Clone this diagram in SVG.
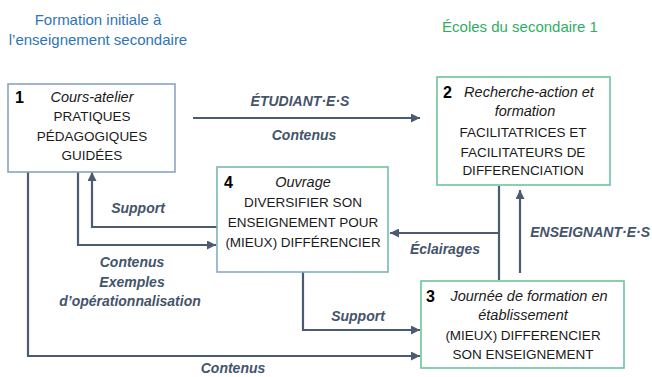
<svg xmlns="http://www.w3.org/2000/svg" width="652" height="377" viewBox="0 0 652 377">
<style>
.hdr{font-family:"Liberation Sans",Arial,sans-serif;font-size:15px}
.box{fill:#fff;stroke-width:1.6}
.t{font-family:"Liberation Sans",Arial,sans-serif;font-size:13.5px;fill:#1a1a1a;text-anchor:middle}
.it{font-style:italic;font-size:14.5px}
.num{font-family:"Liberation Sans",Arial,sans-serif;font-size:16px;font-weight:bold;fill:#000}
.lbl{font-family:"Liberation Sans",Arial,sans-serif;font-size:14px;font-weight:bold;font-style:italic;fill:#44546A;text-anchor:middle}
.c{fill:none;stroke:#4A5B72;stroke-width:2.2}
</style>
<defs>
<marker id="ah" markerUnits="userSpaceOnUse" markerWidth="10" markerHeight="9" refX="9" refY="4.5" orient="auto">
<path d="M0,0 L9,4.5 L0,9 z" fill="#4A5B72"/>
</marker>
<linearGradient id="g4" x1="0" y1="1" x2="1" y2="0">
<stop offset="0" stop-color="#86A9C8"/>
<stop offset="1" stop-color="#6CC59A"/>
</linearGradient>
</defs>

<g id="headers">
<text class="hdr" x="98" y="25" fill="#2E75B6" text-anchor="middle">Formation initiale à</text>
<text class="hdr" x="98" y="45" fill="#2E75B6" text-anchor="middle">l’enseignement secondaire</text>
<text class="hdr" x="520" y="32" fill="#2FAE62" text-anchor="middle" font-size="14.5">Écoles du secondaire 1</text>
</g>

<g id="connectors">
<path class="c" d="M193,118 H420" stroke-width="3" marker-end="url(#ah)"/>
<path class="c" d="M28,172 V356 H420" marker-end="url(#ah)"/>
<path class="c" d="M78,172 V245 H216" marker-end="url(#ah)"/>
<path class="c" d="M217,227 H92 V172" marker-end="url(#ah)"/>
<path class="c" d="M303,272 V330 H420" marker-end="url(#ah)"/>
<path class="c" d="M499,186 V280"/>
<path class="c" d="M499,233 H390" marker-end="url(#ah)"/>
<path class="c" d="M520,273 V190" stroke-width="2.6" marker-end="url(#ah)"/>
<text class="lbl" x="300" y="106">ÉTUDIANT·E·S</text>
<text class="lbl" x="304" y="140">Contenus</text>
<text class="lbl" x="138" y="213">Support</text>
<text class="lbl" x="132" y="267">Contenus</text>
<text class="lbl" x="132" y="287">Exemples</text>
<text class="lbl" x="130" y="306">d’opérationnalisation</text>
<text class="lbl" x="358" y="321">Support</text>
<text class="lbl" x="445" y="254">Éclairages</text>
<text class="lbl" x="650" y="237" style="text-anchor:end">ENSEIGNANT·E·S</text>
<text class="lbl" x="233" y="373">Contenus</text>
</g>

<g id="node1">
<rect class="box" x="8" y="84" width="167" height="88" stroke="#8AA4BF"/>
<text class="num" x="15" y="103">1</text>
<text class="t it" x="92" y="102">Cours-atelier</text>
<text class="t" x="92" y="121">PRATIQUES</text>
<text class="t" x="92" y="141">PÉDAGOGIQUES</text>
<text class="t" x="92" y="160">GUIDÉES</text>
</g>

<g id="node2">
<rect class="box" x="437" y="77" width="173" height="108" stroke="#6DC49B"/>
<text class="num" x="443" y="98">2</text>
<text class="t it" x="529" y="97">Recherche-action et</text>
<text class="t it" x="525" y="116">formation</text>
<text class="t" x="523" y="137">FACILITATRICES ET</text>
<text class="t" x="523" y="157">FACILITATEURS DE</text>
<text class="t" x="523" y="175">DIFFERENCIATION</text>
</g>

<g id="node4">
<rect class="box" x="217" y="167" width="171" height="105" stroke="url(#g4)"/>
<text class="num" x="224" y="188">4</text>
<text class="t it" x="303" y="187">Ouvrage</text>
<text class="t" x="303" y="207">DIVERSIFIER SON</text>
<text class="t" x="303" y="227">ENSEIGNEMENT POUR</text>
<text class="t" x="303" y="247">(MIEUX) DIFFÉRENCIER</text>
</g>

<g id="node3">
<rect class="box" x="421" y="281" width="203" height="87" stroke="#6DC49B"/>
<text class="num" x="426" y="302">3</text>
<text class="t it" x="529" y="301">Journée de formation en</text>
<text class="t it" x="523" y="320">établissement</text>
<text class="t" x="523" y="340">(MIEUX) DIFFERENCIER</text>
<text class="t" x="523" y="359">SON ENSEIGNEMENT</text>
</g>
</svg>
